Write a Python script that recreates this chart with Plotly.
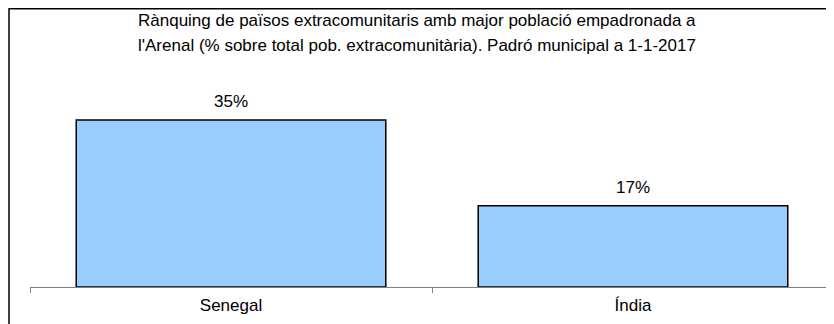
import plotly.graph_objects as go

paisos = ['Senegal', 'Índia']
percentatge = [35, 17]
etiquetes = ['35%', '17%']

titol1 = "Rànquing de països extracomunitaris amb major població empadronada a"
titol2 = "l'Arenal (% sobre total pob. extracomunitària). Padró municipal a 1-1-2017"

fig = go.Figure()
fig.add_trace(go.Bar(
    x=paisos, y=percentatge,
    marker=dict(color='#99CCFF', line=dict(color='#000000', width=1.5)),
    width=0.77, hoverinfo='x+y',
))

# etiquetes de valor sobre cada barra
for p, v, e in zip(paisos, percentatge, etiquetes):
    fig.add_annotation(x=p, y=v, text=e, showarrow=False,
                       yanchor='middle', yshift=18,
                       font=dict(size=17))

fig.update_layout(
    width=834, height=324,
    margin=dict(l=22, r=8, t=88, b=45),
    plot_bgcolor='white', paper_bgcolor='white',
    showlegend=False,
    font=dict(family='Liberation Sans, Arial', size=17, color='#000000'),
    xaxis=dict(showline=True, linecolor='#808080', linewidth=1,
               ticks='outside', tickson='boundaries', ticklen=5, tickcolor='#808080',
               ticklabelstandoff=3, showgrid=False, fixedrange=True),
    yaxis=dict(range=[0, 40], visible=False, fixedrange=True),
    shapes=[dict(type='rect', xref='paper', yref='paper',
                 x0=-0.0261, x1=1.1, y0=-0.4, y1=1.457,
                 line=dict(color='#000000', width=1.5))],
)
fig.add_annotation(text=titol1, xref='paper', yref='paper', x=0.481, y=1.393,
                   showarrow=False, xanchor='center', yanchor='middle')
fig.add_annotation(text=titol2, xref='paper', yref='paper', x=0.481, y=1.262,
                   showarrow=False, xanchor='center', yanchor='middle')

fig.write_html("out.html")
